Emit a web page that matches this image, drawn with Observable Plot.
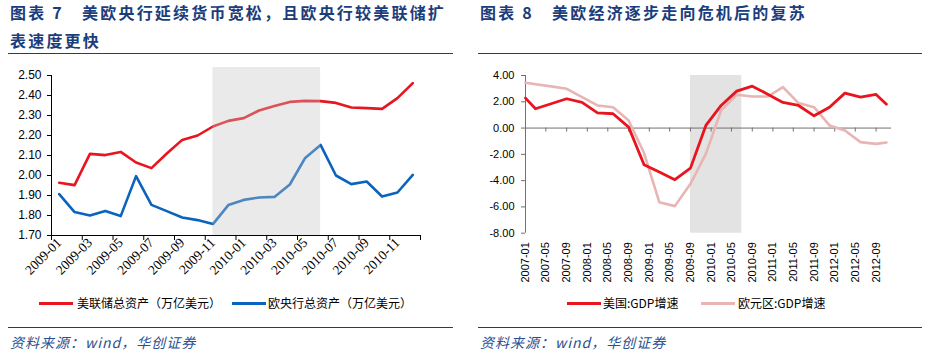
<!DOCTYPE html>
<html><head><meta charset="utf-8">
<script src="https://cdn.jsdelivr.net/npm/d3@7"></script>
<script src="https://cdn.jsdelivr.net/npm/@observablehq/plot@0.6"></script>
<style>
body{margin:0;width:928px;height:357px;position:relative;background:#fff;overflow:hidden;font-family:"Noto Sans CJK SC",sans-serif}
.title{position:absolute;font-weight:bold;font-size:16px;letter-spacing:2.2px;color:#1b3d7c;line-height:27.5px;white-space:nowrap}
.rule{position:absolute;height:0;border-top:1.5px solid #1b3d7c}
.src{position:absolute;font-style:italic;font-size:14px;letter-spacing:1px;line-height:16px;color:#2b4f90;white-space:nowrap}
.leg{position:absolute;font-size:12px;line-height:14px;color:#000;white-space:nowrap}
.sw{position:absolute;height:3px}
.chart{position:absolute}
</style></head><body>
<div class="title" style="left:10px;top:-1px">图表 7　美欧央行延续货币宽松，且欧央行较美联储扩<br>表速度更快</div>
<div class="title" style="left:480px;top:-1px">图表 8　美欧经济逐步走向危机后的复苏</div>
<div class="rule" style="left:8px;top:53px;width:445px"></div>
<div class="rule" style="left:478px;top:53px;width:444px"></div>
<div id="left" class="chart" style="left:0;top:60px"></div>
<div id="right" class="chart" style="left:464px;top:60px"></div>
<div class="sw" style="left:39px;top:302px;width:34px;background:#e8141e"></div>
<div class="leg" style="left:77px;top:296px">美联储总资产（万亿美元）</div>
<div class="sw" style="left:232px;top:302px;width:34px;background:#0a64bd"></div>
<div class="leg" style="left:268px;top:296px">欧央行总资产（万亿美元）</div>
<div class="sw" style="left:567px;top:302px;width:34px;background:#e8141e"></div>
<div class="leg" style="left:603px;top:296px">美国:GDP增速</div>
<div class="sw" style="left:701px;top:302px;width:34px;background:#e8b4b4"></div>
<div class="leg" style="left:738px;top:296px">欧元区:GDP增速</div>
<div class="rule" style="left:8px;top:327px;width:445px"></div>
<div class="rule" style="left:478px;top:327px;width:444px"></div>
<div class="src" style="left:10px;top:334px">资料来源：wind，华创证券</div>
<div class="src" style="left:480px;top:334px">资料来源：wind，华创证券</div>
<script>
// ---- Left chart data ----
const fedMonths = ["2009-01","2009-02","2009-03","2009-04","2009-05","2009-06","2009-07","2009-08","2009-09","2009-10","2009-11","2009-12",
  "2010-01","2010-02","2010-03","2010-04","2010-05","2010-06","2010-07","2010-08","2010-09","2010-10","2010-11","2010-12"];
const fedAssets = [1.964,1.952,2.108,2.102,2.118,2.065,2.037,2.11,2.178,2.20,2.245,2.273,2.287,2.325,2.347,2.368,2.373,2.372,2.363,2.34,2.337,2.333,2.387,2.462];
const ecbAssets = [1.907,1.817,1.80,1.823,1.797,1.997,1.853,1.822,1.79,1.777,1.757,1.852,1.878,1.89,1.893,1.955,2.088,2.153,2.00,1.957,1.97,1.895,1.915,2.003];
const leftTicksY = [1.70,1.80,1.90,2.00,2.10,2.20,2.30,2.40,2.50];
const leftTickLabels = ["2009-01","2009-03","2009-05","2009-07","2009-09","2009-11","2010-01","2010-03","2010-05","2010-07","2010-09","2010-11"];
const shadeLeft = ["2009-11","2010-06"];

// ---- Right chart data ----
const gdpDates = ["2007-01","2007-03","2007-06","2007-09","2007-12","2008-03","2008-06","2008-09","2008-12","2009-03","2009-06","2009-09","2009-12",
  "2010-03","2010-06","2010-09","2010-12","2011-03","2011-06","2011-09","2011-12","2012-03","2012-06","2012-09","2012-11"];
const usGdp = [2.28,1.47,1.85,2.23,1.95,1.16,1.09,0.07,-2.79,-3.35,-3.93,-3.05,0.2,1.72,2.81,3.19,2.58,1.95,1.72,0.93,1.59,2.66,2.35,2.56,1.82];
const euGdp = [3.45,3.34,3.17,2.99,2.35,1.72,1.59,0.58,-1.9,-5.64,-5.94,-4.24,-1.96,1.34,2.53,2.4,2.4,3.11,1.9,1.59,0.2,-0.18,-1.07,-1.2,-1.1];
const rightTicksY = [-8,-6,-4,-2,0,2,4];
const rightTickLabels = ["2007-01","2007-05","2007-09","2008-01","2008-05","2008-09","2009-01","2009-05","2009-09",
  "2010-01","2010-05","2010-09","2011-01","2011-05","2011-09","2012-01","2012-05","2012-09"];
const rightDomain = ["2007-01","2012-12"];
const shadeRight = ["2009-09","2010-07"];

// ---- Left chart ----
const idx = m => fedMonths.indexOf(m) + 0.5;
const leftData = fedMonths.map((m, i) => ({m, fed: fedAssets[i], ecb: ecbAssets[i]}));
const left = Plot.plot({
  width: 464, height: 225, marginLeft: 51, marginRight: 44, marginTop: 15, marginBottom: 50,
  style: {fontFamily: "Liberation Sans, Arial, sans-serif", fontSize: "12px", color: "#000", background: "transparent"},
  x: {type: "linear", domain: [0, fedMonths.length]},
  y: {domain: [leftTicksY[0], leftTicksY[leftTicksY.length - 1]]},
  marks: [
    Plot.lineY(leftData, {x: d => idx(d.m), y: "fed", stroke: "#e8141e", strokeWidth: 2.6}),
    Plot.lineY(leftData, {x: d => idx(d.m), y: "ecb", stroke: "#0a64bd", strokeWidth: 2.6}),
    Plot.rect([shadeLeft], {x1: d => idx(d[0]), x2: d => idx(d[1]), insetTop: -8, fill: "#c4c4c4", fillOpacity: 0.36}),
    Plot.ruleX([0], {stroke: "#000"}),
    Plot.ruleY([leftTicksY[0]], {stroke: "#000"}),
    Plot.axisY({ticks: leftTicksY, tickSize: 4, tickPadding: 6, tickFormat: d => d.toFixed(2), label: null, fontSize: 12}),
    Plot.axisX({ticks: d3.range(0, fedMonths.length + 1, 2), tickSize: 5, tickFormat: () => "", label: null}),
    Plot.axisX({ticks: leftTickLabels.map(idx), tickSize: 0, tickPadding: 5, tickRotate: -45,
      tickFormat: v => fedMonths[Math.round(v - 0.5)], label: null, fontFamily: "Liberation Serif, serif", fontSize: 13.5})
  ]
});
document.getElementById("left").appendChild(left);

// ---- Right chart ----
const parse = d3.utcParse("%Y-%m");
const rightData = gdpDates.map((d, i) => ({date: parse(d), us: usGdp[i], eu: euGdp[i]}));
const right = Plot.plot({
  width: 464, height: 232, marginLeft: 61, marginRight: 37, marginTop: 15, marginBottom: 59.3,
  style: {fontFamily: "Liberation Sans, Arial, sans-serif", fontSize: "11px", color: "#000", background: "transparent"},
  x: {type: "utc", domain: rightDomain.map(parse)},
  y: {domain: [rightTicksY[0], rightTicksY[rightTicksY.length - 1]]},
  marks: [
    Plot.rect([shadeRight], {x1: d => parse(d[0]), x2: d => parse(d[1]), fill: "#e3e3e3"}),
    Plot.ruleX([parse(rightDomain[0])], {stroke: "#707070"}),
    Plot.ruleY([0], {stroke: "#707070"}),
    Plot.ruleX(rightTickLabels.map(parse), {x: d => d, y: () => 0, insetBottom: -4, stroke: "#707070"}),
    Plot.axisY({ticks: rightTicksY, tickSize: 4, tickPadding: 7, tickFormat: d => d.toFixed(2), label: null, stroke: "#707070"}),
    Plot.axisX({ticks: rightTickLabels.map(parse), tickSize: 0, tickPadding: 9, tickRotate: -90,
      tickFormat: d3.utcFormat("%Y-%m"), label: null}),
    Plot.lineY(rightData, {x: "date", y: "eu", stroke: "#e8b4b4", strokeWidth: 2.6}),
    Plot.lineY(rightData, {x: "date", y: "us", stroke: "#e8141e", strokeWidth: 2.8})
  ]
});
document.getElementById("right").appendChild(right);
</script>
</body></html>
